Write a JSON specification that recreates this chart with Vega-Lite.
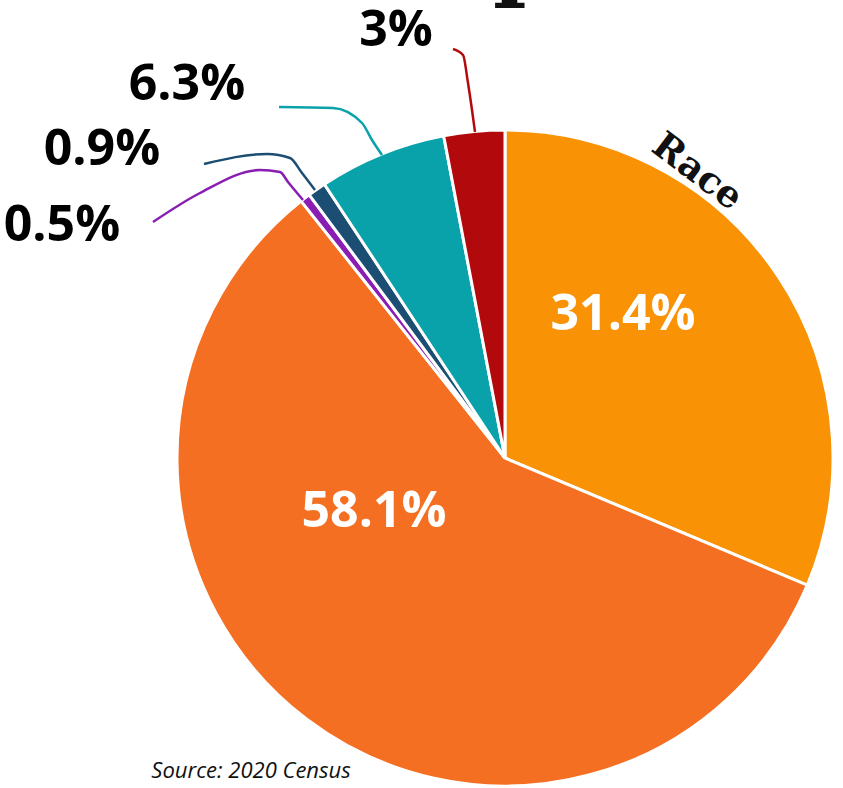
{
  "$schema": "https://vega.github.io/schema/vega-lite/v6.json",
  "width": 676,
  "height": 660,
  "autosize": {"type": "none"},
  "padding": {"left": 167, "top": 128, "right": 0, "bottom": 0},
  "background": "white",
  "config": {"view": {"stroke": null}},
  "datasets": {
    "slices": [
      {"group": "Hispanic or Latino", "pct": 31.4, "rank": 1, "label": "31.4%", "lx": 118, "ly": 143},
      {"group": "White", "pct": 58.1, "rank": 2, "label": "58.1%", "lx": -131, "ly": -54},
      {"group": "American Indian", "pct": 0.5, "rank": 3, "label": "0.5%", "lx": -443, "ly": 232},
      {"group": "Pacific Islander", "pct": 0.9, "rank": 4, "label": "0.9%", "lx": -403, "ly": 308},
      {"group": "Asian", "pct": 6.3, "rank": 5, "label": "6.3%", "lx": -318, "ly": 373},
      {"group": "Black", "pct": 3, "rank": 6, "label": "3%", "lx": -109, "ly": 427}
    ],
    "callouts": [
      {"group": "Black", "x": -52, "y": 409},
      {"group": "Black", "x": -42, "y": 403},
      {"group": "Black", "x": -37, "y": 375},
      {"group": "Black", "x": -33, "y": 348},
      {"group": "Black", "x": -30, "y": 326},
      {"group": "Asian", "x": -226, "y": 351},
      {"group": "Asian", "x": -172, "y": 350},
      {"group": "Asian", "x": -143, "y": 335},
      {"group": "Asian", "x": -133, "y": 318},
      {"group": "Asian", "x": -123, "y": 303},
      {"group": "Pacific Islander", "x": -301, "y": 294},
      {"group": "Pacific Islander", "x": -238, "y": 304},
      {"group": "Pacific Islander", "x": -215, "y": 300},
      {"group": "Pacific Islander", "x": -203, "y": 285},
      {"group": "Pacific Islander", "x": -190, "y": 268},
      {"group": "American Indian", "x": -352, "y": 236},
      {"group": "American Indian", "x": -305, "y": 265},
      {"group": "American Indian", "x": -245, "y": 288},
      {"group": "American Indian", "x": -225, "y": 286},
      {"group": "American Indian", "x": -217, "y": 276},
      {"group": "American Indian", "x": -202, "y": 258}
    ],
    "notes": [
      {"kind": "race", "text": "Race", "x": 192, "y": 286},
      {"kind": "source", "text": "Source: 2020 Census", "x": -254, "y": -313},
      {"kind": "title", "text": "p", "x": -12, "y": 469}
    ]
  },
  "layer": [
    {
      "data": {"name": "slices"},
      "mark": {"type": "arc", "outerRadius": 328, "stroke": "white", "strokeWidth": 3},
      "encoding": {
        "theta": {"field": "pct", "type": "quantitative", "stack": true},
        "order": {"field": "rank", "type": "quantitative"},
        "color": {
          "field": "group",
          "type": "nominal",
          "scale": {
            "domain": ["Hispanic or Latino", "White", "American Indian", "Pacific Islander", "Asian", "Black"],
            "range": ["#F99205", "#F46F21", "#8A1DB2", "#1B4E72", "#0AA2AA", "#B20A0C"]
          },
          "legend": null
        }
      }
    },
    {
      "data": {"name": "callouts"},
      "mark": {"type": "line", "interpolate": "monotone", "strokeWidth": 2.5},
      "encoding": {
        "x": {"field": "x", "type": "quantitative", "scale": {"domain": [-338, 338], "nice": false, "zero": false}, "axis": null},
        "y": {"field": "y", "type": "quantitative", "scale": {"domain": [-330, 330], "nice": false, "zero": false}, "axis": null},
        "color": {"field": "group", "type": "nominal", "legend": null}
      }
    },
    {
      "data": {"name": "slices"},
      "transform": [{"filter": "datum.pct > 20"}],
      "mark": {"type": "text", "font": "Open Sans", "fontWeight": "bold", "fontSize": 50, "color": "white", "align": "center", "baseline": "middle"},
      "encoding": {
        "x": {"field": "lx", "type": "quantitative", "scale": {"domain": [-338, 338], "nice": false, "zero": false}, "axis": null},
        "y": {"field": "ly", "type": "quantitative", "scale": {"domain": [-330, 330], "nice": false, "zero": false}, "axis": null},
        "text": {"field": "label"}
      }
    },
    {
      "data": {"name": "slices"},
      "transform": [{"filter": "datum.pct < 20"}],
      "mark": {"type": "text", "font": "Open Sans", "fontWeight": "bold", "fontSize": 50, "color": "black", "align": "center", "baseline": "middle"},
      "encoding": {
        "x": {"field": "lx", "type": "quantitative", "scale": {"domain": [-338, 338], "nice": false, "zero": false}, "axis": null},
        "y": {"field": "ly", "type": "quantitative", "scale": {"domain": [-330, 330], "nice": false, "zero": false}, "axis": null},
        "text": {"field": "label"}
      }
    },
    {
      "data": {"name": "notes"},
      "transform": [{"filter": "datum.kind == 'race'"}],
      "mark": {"type": "text", "font": "DejaVu Serif", "fontWeight": "bold", "fontSize": 37, "color": "#111111", "align": "center", "baseline": "middle", "angle": 37},
      "encoding": {
        "x": {"field": "x", "type": "quantitative", "scale": {"domain": [-338, 338], "nice": false, "zero": false}, "axis": null},
        "y": {"field": "y", "type": "quantitative", "scale": {"domain": [-330, 330], "nice": false, "zero": false}, "axis": null},
        "text": {"field": "text"}
      }
    },
    {
      "data": {"name": "notes"},
      "transform": [{"filter": "datum.kind == 'source'"}],
      "mark": {"type": "text", "font": "Open Sans", "fontStyle": "italic", "fontSize": 22, "color": "#111111", "align": "center", "baseline": "middle"},
      "encoding": {
        "x": {"field": "x", "type": "quantitative", "scale": {"domain": [-338, 338], "nice": false, "zero": false}, "axis": null},
        "y": {"field": "y", "type": "quantitative", "scale": {"domain": [-330, 330], "nice": false, "zero": false}, "axis": null},
        "text": {"field": "text"}
      }
    },
    {
      "data": {"name": "notes"},
      "transform": [{"filter": "datum.kind == 'title'"}],
      "mark": {"type": "text", "font": "DejaVu Serif", "fontWeight": "bold", "fontSize": 90, "color": "#111111", "align": "left", "baseline": "alphabetic"},
      "encoding": {
        "x": {"field": "x", "type": "quantitative", "scale": {"domain": [-338, 338], "nice": false, "zero": false}, "axis": null},
        "y": {"field": "y", "type": "quantitative", "scale": {"domain": [-330, 330], "nice": false, "zero": false}, "axis": null},
        "text": {"field": "text"}
      }
    }
  ]
}
